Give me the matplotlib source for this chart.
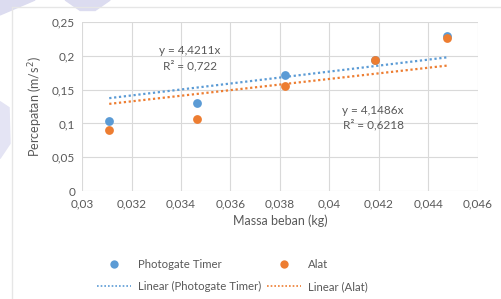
import matplotlib
matplotlib.use("Agg")
import matplotlib.pyplot as plt
from matplotlib.lines import Line2D
from matplotlib.patches import Polygon
from matplotlib.ticker import FuncFormatter, MultipleLocator

# ── Data ──────────────────────────────────────────────────────────────────────
massa = [0.0311, 0.03465, 0.0382, 0.04184, 0.04475]
photogate = [0.1036, 0.130, 0.1716, 0.194, 0.229]
alat = [0.090, 0.1065, 0.155, 0.194, 0.226]

slope_photogate = 4.4211
slope_alat = 4.1486
r2_photogate = "0,722"
r2_alat = "0,6218"

BLUE = "#5b9bd5"
ORANGE = "#ed7d31"
GRAY = "#595959"
GRID = "#d9d9d9"

plt.rcParams["font.family"] = ["Lato", "DejaVu Sans"]

fig = plt.figure(figsize=(5.01, 2.99), dpi=100)

# watermark in background
fig.patches.append(Polygon([[0.0, 1.0], [0.07, 1.0], [0.0, 0.95]], closed=True,
                           transform=fig.transFigure, color="#dcdcf0", zorder=0))
fig.patches.append(Polygon([[0.13, 1.0], [0.22, 1.0], [0.19, 0.965], [0.16, 0.965]], closed=True,
                           transform=fig.transFigure, color="#dcdcf0", zorder=0))
fig.patches.append(Polygon([[0.0, 0.66], [0.018, 0.64], [0.02, 0.52], [0.0, 0.47]], closed=True,
                           transform=fig.transFigure, color="#e4e4f4", zorder=0))

# chart border
fig.add_artist(Line2D([0.024, 1.0], [0.977, 0.977], transform=fig.transFigure, color="#e6e6e6", lw=1))
fig.add_artist(Line2D([0.024, 0.024], [0.0, 0.977], transform=fig.transFigure, color="#e6e6e6", lw=1))

ax = fig.add_axes([0.1637, 0.361, 0.954 - 0.1637, 0.926 - 0.361])

ax.scatter(massa, photogate, s=40, color=BLUE, zorder=3, linewidths=0)
ax.scatter(massa, alat, s=40, color=ORANGE, zorder=4, linewidths=0)

xs = [min(massa), max(massa)]
ax.plot(xs, [slope_photogate * x for x in xs], ls=(0, (1, 1.2)), lw=1.6, color=BLUE, zorder=2)
ax.plot(xs, [slope_alat * x for x in xs], ls=(0, (1, 1.2)), lw=1.6, color=ORANGE, zorder=2)

ax.set_xlim(0.03, 0.046)
ax.set_ylim(0, 0.25)
ax.xaxis.set_major_locator(MultipleLocator(0.002))
ax.yaxis.set_major_locator(MultipleLocator(0.05))
fmt = FuncFormatter(lambda v, p: f"{round(v, 4):g}".replace(".", ","))
ax.xaxis.set_major_formatter(fmt)
ax.yaxis.set_major_formatter(fmt)

ax.grid(True, color=GRID, lw=0.8)
ax.set_axisbelow(True)
for s in ax.spines.values():
    s.set_visible(False)
ax.tick_params(length=0, labelsize=8.5, colors=GRAY, pad=5)

ax.set_xlabel("Massa beban (kg)", fontsize=9, color=GRAY, labelpad=4)
ax.set_ylabel("Percepatan (m/s$^2$)", fontsize=9, color=GRAY, labelpad=5)

ax.text(0.03436, 0.2086, f"y = {str(slope_photogate).replace('.', ',')}x", ha="center", va="center",
        fontsize=8.5, color=GRAY)
ax.text(0.03436, 0.185, f"R² = {r2_photogate}", ha="center", va="center", fontsize=8.5, color=GRAY)
ax.text(0.04176, 0.1198, f"y = {str(slope_alat).replace('.', ',')}x", ha="center", va="center",
        fontsize=8.5, color=GRAY)
ax.text(0.04176, 0.0976, f"R² = {r2_alat}", ha="center", va="center", fontsize=8.5, color=GRAY)

handles = [
    Line2D([], [], ls="none", marker="o", ms=6, color=BLUE, mew=0),
    Line2D([], [], ls=(0, (1, 1.2)), lw=1.2, color=BLUE),
    Line2D([], [], ls="none", marker="o", ms=6, color=ORANGE, mew=0),
    Line2D([], [], ls=(0, (1, 1.2)), lw=1.2, color=ORANGE),
]
labels = ["Photogate Timer", "Linear (Photogate Timer)", "Alat", "Linear (Alat)"]
fig.legend(handles, labels, ncol=2, loc="upper left", bbox_to_anchor=(0.185, 0.148),
           frameon=False, fontsize=8.2, labelcolor=GRAY, handlelength=3.0,
           handletextpad=0.6, columnspacing=0.5, labelspacing=0.95, borderaxespad=0)

fig.savefig("out.png", dpi=100)
